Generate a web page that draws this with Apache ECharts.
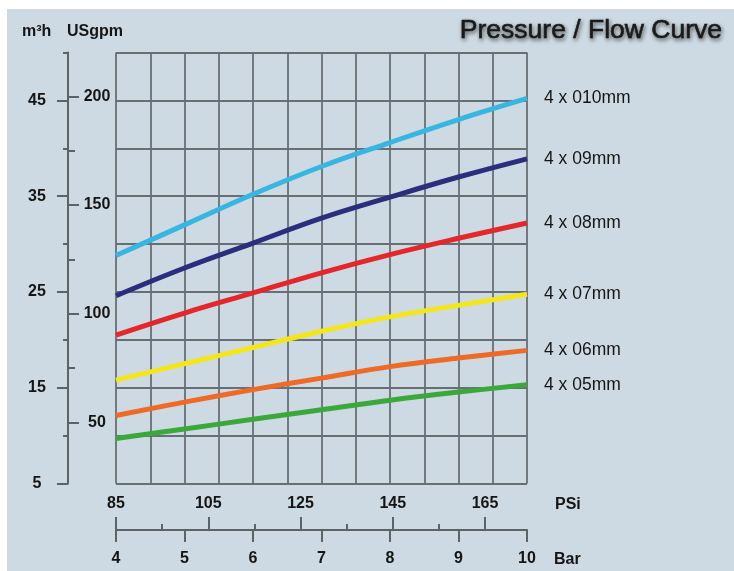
<!DOCTYPE html>
<html><head><meta charset="utf-8">
<script src="https://cdn.jsdelivr.net/npm/echarts@6/dist/echarts.min.js"></script>
<style>
html,body{margin:0;padding:0;background:#fff;width:734px;height:571px;overflow:hidden}
#chart{position:absolute;left:7px;top:9px;width:727px;height:562px;background:#cddae3}
</style>
</head><body><div id="chart"></div>
<script>
const pressureBar = [4, 5, 6, 7, 8, 9, 10];
const nozzleNames = ['4 x 010mm', '4 x 09mm', '4 x 08mm', '4 x 07mm', '4 x 06mm', '4 x 05mm'];
const flow010 = [28.8, 32.0, 35.2, 38.1, 40.6, 43.0, 45.2];
const flow09  = [24.6, 27.5, 30.1, 32.7, 34.9, 37.0, 38.9];
const flow08  = [20.5, 22.8, 24.9, 27.0, 28.9, 30.6, 32.2];
const flow07  = [15.8, 17.5, 19.2, 20.9, 22.4, 23.6, 24.75];
const flow06  = [12.1, 13.5, 14.8, 16.0, 17.2, 18.1, 18.9];
const flow05  = [9.7, 10.7, 11.7, 12.7, 13.7, 14.55, 15.3];
const lineColors = ['#38b5e1', '#2b2d7d', '#e4272b', '#f3e61c', '#ee6a26', '#3ba83b'];

const barTicks = [4, 5, 6, 7, 8, 9, 10];
const psiTicks = [85, 105, 125, 145, 165];
const psiMinorTicks = [95, 115, 135, 155];
const m3hTicks = [5, 15, 25, 35, 45];
const m3hMinorTicks = [10, 20, 30, 40, 50];
const gpmTicks = [50, 100, 150, 200];
const gpmMinorTicks = [75, 125, 175];
const GPM_PER_M3H = 4.40287;
const M3H_MIN = 5, M3H_MAX = 50;
const BAR_MIN = 4, BAR_MAX = 10;
const PSI_MIN = 85, PSI_MAX = 174.1;

const FONT = '"Liberation Sans", Arial, sans-serif';
const AX = '#5b6367';
const GRIDC = '#666f74';
const TXT = '#151515';
const lbl = {color: TXT, fontSize: 16, fontWeight: 'bold', fontFamily: FONT};
const hidden = {axisLine: {show: false}, axisTick: {show: false}, axisLabel: {show: false}, splitLine: {show: false}};

const chart = echarts.init(document.getElementById('chart'));
const flows = [flow010, flow09, flow08, flow07, flow06, flow05];

chart.setOption({
  animation: false,
  grid: {left: 109, top: 43.5, right: 207, bottom: 87.5, containLabel: false},
  xAxis: [
    Object.assign({}, hidden, {type: 'value', min: BAR_MIN, max: BAR_MAX, interval: 0.5, position: 'bottom',
      splitLine: {show: true, lineStyle: {color: GRIDC, width: 1.8}}}),
    Object.assign({}, hidden, {type: 'value', min: BAR_MIN, max: BAR_MAX, interval: 1, position: 'bottom', offset: 46.5,
      axisLine: {show: true, onZero: false, lineStyle: {color: AX, width: 2}},
      axisTick: {show: true, inside: false, length: 12, customValues: barTicks, lineStyle: {color: AX, width: 2}},
      axisLabel: Object.assign({show: true, margin: 21, customValues: barTicks}, lbl)}),
    Object.assign({}, hidden, {type: 'value', min: PSI_MIN, max: PSI_MAX, position: 'bottom', offset: 46.5,
      axisTick: {show: true, inside: true, length: 13, customValues: psiTicks, lineStyle: {color: AX, width: 2}},
      axisLabel: Object.assign({show: true, inside: true, margin: 18, customValues: psiTicks}, lbl)}),
    Object.assign({}, hidden, {type: 'value', min: PSI_MIN, max: PSI_MAX, position: 'bottom', offset: 46.5,
      axisTick: {show: true, inside: true, length: 6, customValues: psiMinorTicks, lineStyle: {color: AX, width: 2}}})
  ],
  yAxis: [
    Object.assign({}, hidden, {type: 'value', min: M3H_MIN, max: M3H_MAX, interval: 5, position: 'left',
      splitLine: {show: true, lineStyle: {color: GRIDC, width: 1.8}}}),
    Object.assign({}, hidden, {type: 'value', min: M3H_MIN, max: M3H_MAX, position: 'left', offset: 48,
      axisLine: {show: true, onZero: false, lineStyle: {color: AX, width: 2}},
      axisTick: {show: true, inside: false, length: 11, customValues: m3hTicks, lineStyle: {color: AX, width: 2}},
      axisLabel: Object.assign({show: true, margin: 31, align: 'center', customValues: m3hTicks}, lbl)}),
    Object.assign({}, hidden, {type: 'value', min: M3H_MIN, max: M3H_MAX, position: 'left', offset: 48,
      axisTick: {show: true, inside: false, length: 5, customValues: m3hMinorTicks, lineStyle: {color: AX, width: 2}}}),
    Object.assign({}, hidden, {type: 'value', min: M3H_MIN * GPM_PER_M3H, max: M3H_MAX * GPM_PER_M3H, position: 'left', offset: 48,
      axisTick: {show: true, inside: true, length: 11, customValues: gpmTicks, lineStyle: {color: AX, width: 2}},
      axisLabel: Object.assign({show: true, inside: true, margin: 29, align: 'center', customValues: gpmTicks}, lbl)}),
    Object.assign({}, hidden, {type: 'value', min: M3H_MIN * GPM_PER_M3H, max: M3H_MAX * GPM_PER_M3H, position: 'left', offset: 48,
      axisTick: {show: true, inside: true, length: 7, customValues: gpmMinorTicks, lineStyle: {color: AX, width: 2}}})
  ],
  series: flows.map((vals, i) => ({
    name: nozzleNames[i],
    type: 'line',
    xAxisIndex: 0, yAxisIndex: 0,
    smooth: 0.4,
    symbol: 'none',
    data: pressureBar.map((p, j) => [p, vals[j]]),
    lineStyle: {color: lineColors[i], width: 5, cap: 'butt'},
    itemStyle: {color: lineColors[i]},
    endLabel: {show: true, formatter: '{a}', distance: 17, color: TXT, fontSize: 17.5, fontFamily: FONT},
    z: 3
  })),
  graphic: [
    {type: 'text', x: 15, y: 23, style: {text: 'm³h', fill: TXT, font: 'bold 16px ' + FONT, textVerticalAlign: 'middle', verticalAlign: 'middle'}},
    {type: 'text', x: 60, y: 23, style: {text: 'USgpm', fill: TXT, font: 'bold 16px ' + FONT, textVerticalAlign: 'middle', verticalAlign: 'middle'}},
    {type: 'text', x: 715, y: 22, style: {text: 'Pressure / Flow Curve', fill: '#1a1a1a', font: '26.5px ' + FONT,
      textAlign: 'right', align: 'right', textVerticalAlign: 'middle', verticalAlign: 'middle',
      stroke: '#1a1a1a', lineWidth: 0.6,
      textShadowColor: 'rgba(0,0,0,0.55)', textShadowBlur: 4, textShadowOffsetX: 1, textShadowOffsetY: 2}},
    {type: 'text', x: 548, y: 496, style: {text: 'PSi', fill: TXT, font: 'bold 16px ' + FONT, textVerticalAlign: 'middle', verticalAlign: 'middle'}},
    {type: 'text', x: 547, y: 551, style: {text: 'Bar', fill: TXT, font: 'bold 16px ' + FONT, textVerticalAlign: 'middle', verticalAlign: 'middle'}}
  ]
});
</script>
</body></html>
